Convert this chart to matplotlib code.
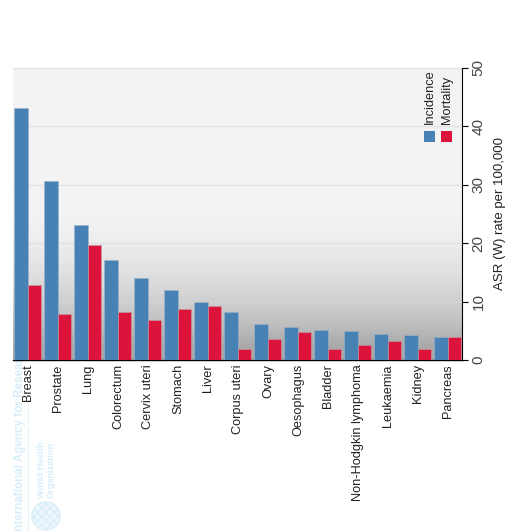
import numpy as np
import matplotlib
matplotlib.use("Agg")
import matplotlib.pyplot as plt
from matplotlib.patches import Circle, Rectangle

plt.rcParams['font.family'] = ['Liberation Sans', 'DejaVu Sans']

cancers = ["Breast", "Prostate", "Lung", "Colorectum", "Cervix uteri", "Stomach", "Liver",
           "Corpus uteri", "Ovary", "Oesophagus", "Bladder", "Non-Hodgkin lymphoma",
           "Leukaemia", "Kidney", "Pancreas"]
incidence = [43.1, 30.6, 23.1, 17.1, 14.0, 12.0, 10.0, 8.2, 6.1, 5.7, 5.2, 4.9, 4.5, 4.3, 4.0]
mortality = [12.8, 7.8, 19.7, 8.2, 6.8, 8.8, 9.3, 1.8, 3.6, 4.8, 1.8, 2.5, 3.3, 1.8, 3.9]
y_ticks = [0, 10, 20, 30, 40, 50]

W, H = 509, 531
fig = plt.figure(figsize=(W / 100, H / 100), dpi=100)
fig.patch.set_facecolor('white')

# watermark and legend sit on a full figure overlay in pixel coordinates
bg = fig.add_axes([0, 0, 1, 1], zorder=0)
bg.set_xlim(0, W)
bg.set_ylim(H, 0)
bg.axis('off')
wm = '#d9eef9'
bg.text(20, 534, "International Agency for Research on Cancer", rotation=90, color=wm,
        fontsize=8.4, fontweight='bold', ha='center', va='bottom', clip_on=True)
bg.plot([28.5, 28.5], [400, 531], color='#e8f4fb', lw=0.8)
bg.text(41.5, 498, "World Health", rotation=90, color=wm, fontsize=6.6, fontweight='bold',
        ha='center', va='bottom')
bg.text(51, 498, "Organization", rotation=90, color=wm, fontsize=6.6, fontweight='bold',
        ha='center', va='bottom')
plt.rcParams['hatch.color'] = wm
bg.add_patch(Circle((46, 516), 14, facecolor='#eef7fc', edgecolor=wm, lw=1, hatch='xxxx'))

ax = fig.add_axes([13 / W, 1 - 360 / H, 449 / W, 292 / H], zorder=1)

# panel background: flat light grey, darkening towards the baseline
stops = np.array([0.955, 0.955, 0.955, 0.955, 0.955, 0.95, 0.93, 0.89, 0.83, 0.76, 0.66])
ax.imshow(stops[:, None], cmap='gray', vmin=0, vmax=1, aspect='auto', interpolation='bilinear',
          extent=(0, 1, 0, 1), transform=ax.transAxes, zorder=0)

x = np.arange(len(cancers))
ax.bar(x - 0.235, incidence, width=0.47, color='#4682b4', edgecolor='#9fb4c6', linewidth=0.4, zorder=3)
ax.bar(x + 0.21, mortality, width=0.42, color='#dc143c', edgecolor='#c2a0a8', linewidth=0.4, zorder=3)

ax.set_xlim(-0.5, 14.47)
ax.set_ylim(0, 50)
ax.yaxis.tick_right()
ax.yaxis.set_label_position('right')
ax.set_yticks(y_ticks)
ax.set_yticklabels(y_ticks, rotation=90, va='center', fontsize=11, color='#444444')
ax.set_ylabel("ASR (W) rate per 100,000", fontsize=9.5, color='#222222', labelpad=6)
ax.set_xticks(x)
ax.set_xticklabels(cancers, rotation=90, ha='center', va='top', fontsize=9.2, color='#222222')
ax.tick_params(axis='x', length=0, pad=3)
ax.tick_params(axis='y', length=4, width=0.8, pad=3)
ax.grid(axis='y', color='#d8d8d8', linewidth=1, alpha=0.6, zorder=1)
ax.set_axisbelow(True)
ax.patch.set_alpha(0)
for side in ['left', 'top']:
    ax.spines[side].set_visible(False)
ax.spines['right'].set_linewidth(0.8)
ax.spines['bottom'].set_linewidth(1.0)

# legend, on top of the panel
fg = fig.add_axes([0, 0, 1, 1], zorder=2)
fg.set_xlim(0, W)
fg.set_ylim(H, 0)
fg.axis('off')
for px, color, name in [(424, '#4682b4', "Incidence"), (441, '#dc143c', "Mortality")]:
    fg.add_patch(Rectangle((px, 131), 11, 11, facecolor=color, edgecolor='none'))
    fg.text(px + 6, 124, name, rotation=90, ha='center', va='bottom', fontsize=9.2, color='#222222')

fig.savefig("out.png", dpi=100)
